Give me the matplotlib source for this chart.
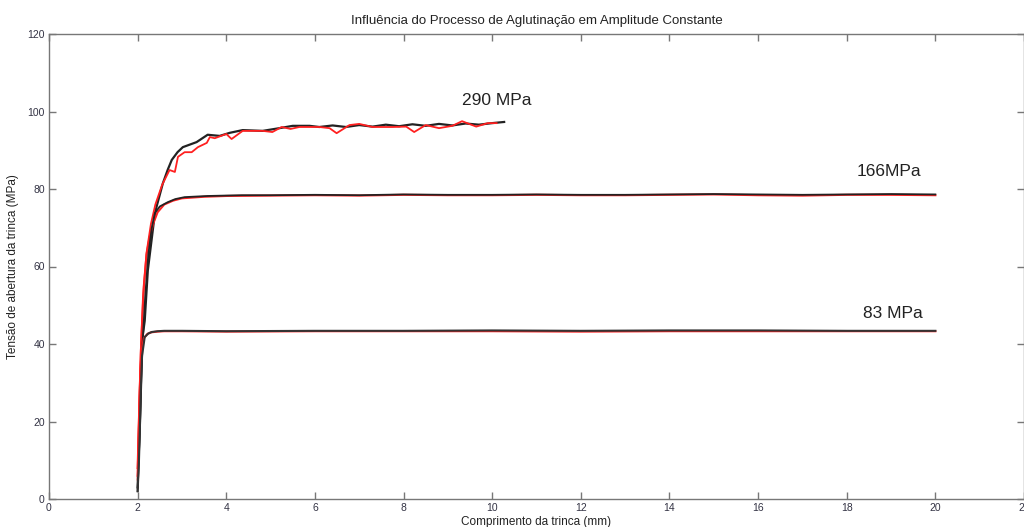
import matplotlib
matplotlib.use('Agg')
import matplotlib.pyplot as plt

plt.rcParams['font.family'] = ['Liberation Sans', 'DejaVu Sans']

# 290 MPa
x_290_black = [2.0, 2.02, 2.05, 2.09, 2.16, 2.23, 2.39, 2.45, 2.57, 2.68, 2.77, 2.9, 3.02, 3.33,
               3.58, 3.85, 4.08, 4.37, 4.82, 5.2, 5.5, 5.88, 6.1, 6.4, 6.7, 7.0, 7.3, 7.6, 7.9,
               8.2, 8.5, 8.8, 9.1, 9.4, 9.7, 10.0, 10.27]
y_290_black = [3, 10, 18.6, 40, 46, 59, 73.8, 76.4, 81.5, 85, 87.5, 89.5, 90.8, 92.1,
               94.0, 93.7, 94.5, 95.2, 95.0, 95.7, 96.3, 96.3, 96.0, 96.4, 96.0, 96.5, 96.1, 96.6, 96.2,
               96.7, 96.3, 96.8, 96.4, 96.9, 96.6, 97.0, 97.3]
x_290_red = [2.0, 2.03, 2.07, 2.12, 2.2, 2.3, 2.4, 2.55, 2.72, 2.84, 2.91, 3.06, 3.22, 3.36, 3.56,
             3.63, 3.74, 4.0, 4.12, 4.37, 4.82, 5.04, 5.25, 5.45, 5.65, 6.1, 6.33, 6.49, 6.78, 7.0,
             7.3, 7.75, 8.06, 8.24, 8.5, 8.8, 9.1, 9.32, 9.64, 9.9, 10.1]
y_290_red = [5, 20, 38, 52, 63.5, 71, 76, 81, 84.9, 84.4, 88.3, 89.5, 89.5, 90.8, 91.9,
             93.4, 93.1, 94.2, 92.9, 95.0, 95.0, 94.7, 96.0, 95.5, 96.0, 96.0, 95.7, 94.4, 96.5, 96.8,
             96.0, 96.0, 96.1, 94.7, 96.5, 95.7, 96.3, 97.5, 96.1, 97.0, 97.0]

# 166 MPa
x_166_black = [2.0, 2.03, 2.07, 2.11, 2.17, 2.24, 2.32, 2.39, 2.5, 2.68, 2.85, 3.06, 3.58, 4.35,
               5, 6, 7, 8, 9, 10, 11, 12, 13, 14, 15, 16, 17, 18, 19, 20]
y_166_black = [2, 12, 25, 40, 52, 63, 70, 73.8, 75.5, 76.6, 77.4, 77.9, 78.2, 78.4,
               78.4, 78.5, 78.4, 78.6, 78.5, 78.5, 78.6, 78.5, 78.5, 78.6, 78.7, 78.6, 78.5, 78.6, 78.7, 78.6]
x_166_red = [2.0, 2.04, 2.08, 2.14, 2.2, 2.27, 2.35, 2.45, 2.6, 2.8, 3.0, 3.5, 4.0,
             5, 6, 7, 8, 9, 10, 11, 12, 13, 14, 15, 16, 17, 18, 19, 20]
y_166_red = [8, 25, 40, 55, 63, 67.6, 71, 74, 76, 77, 77.6, 78.0, 78.2,
             78.3, 78.4, 78.3, 78.5, 78.4, 78.4, 78.5, 78.4, 78.4, 78.5, 78.6, 78.4, 78.3, 78.5, 78.5, 78.4]

# 83 MPa
x_83_black = [2.0, 2.03, 2.05, 2.07, 2.1, 2.16, 2.24, 2.32, 2.45, 2.6, 3, 4, 6, 8, 10, 12, 14, 16, 18, 20]
y_83_black = [2, 10, 18, 28, 37, 41.8, 42.7, 43.1, 43.3, 43.4, 43.4, 43.3, 43.4, 43.4, 43.5, 43.4,
              43.5, 43.5, 43.4, 43.4]
x_83_red = [2.0, 2.02, 2.04, 2.06, 2.09, 2.14, 2.22, 2.3, 2.45, 2.6, 3, 4, 6, 8, 10, 12, 14, 16, 18, 20]
y_83_red = [6, 15, 25, 33, 38, 41.5, 42.6, 43.0, 43.2, 43.3, 43.3, 43.2, 43.3, 43.3, 43.3, 43.2,
            43.3, 43.3, 43.3, 43.3]

labels = ['290 MPa', '166MPa', '83 MPa']
label_x = [10.1, 18.95, 19.05]
label_y = [102.8, 84.4, 48.0]

fig = plt.figure(figsize=(10.24, 5.27), dpi=100)
ax = fig.add_axes([49 / 1024, 28 / 527, 975 / 1024, 465 / 527])

ax.plot(x_290_black, y_290_black, color='#222222', lw=1.6)
ax.plot(x_290_red, y_290_red, color='#ff2020', lw=1.3)
ax.plot(x_166_red, y_166_red, color='#ff2020', lw=1.5)
ax.plot(x_166_black, y_166_black, color='#222222', lw=1.3)
ax.plot(x_83_red, y_83_red, color='#ff2020', lw=1.5)
ax.plot(x_83_black, y_83_black, color='#333333', lw=1.5)

for t, lx, ly in zip(labels, label_x, label_y):
    ax.text(lx, ly, t, fontsize=12.5, color='#222222', ha='center', va='center')

ax.set_xlim(0, 22)
ax.set_ylim(0, 120)
ax.set_xticks(range(0, 23, 2))
ax.set_yticks(range(0, 121, 20))
ax.tick_params(direction='in', length=5, width=1, colors='#777777', labelcolor='#333344',
               labelsize=7.5, top=True, right=True, pad=3)
for s in ax.spines.values():
    s.set_color('#777777')
    s.set_linewidth(1)

ax.set_title('Influência do Processo de Aglutinação em Amplitude Constante', fontsize=9.5,
             color='#222222', pad=7)
ax.set_xlabel('Comprimento da trinca (mm)', fontsize=8.5, color='#222222', labelpad=2)
ax.set_ylabel('Tensão de abertura da trinca (MPa)', fontsize=8.5, color='#222222', labelpad=6)

fig.savefig('out.png', dpi=100)
